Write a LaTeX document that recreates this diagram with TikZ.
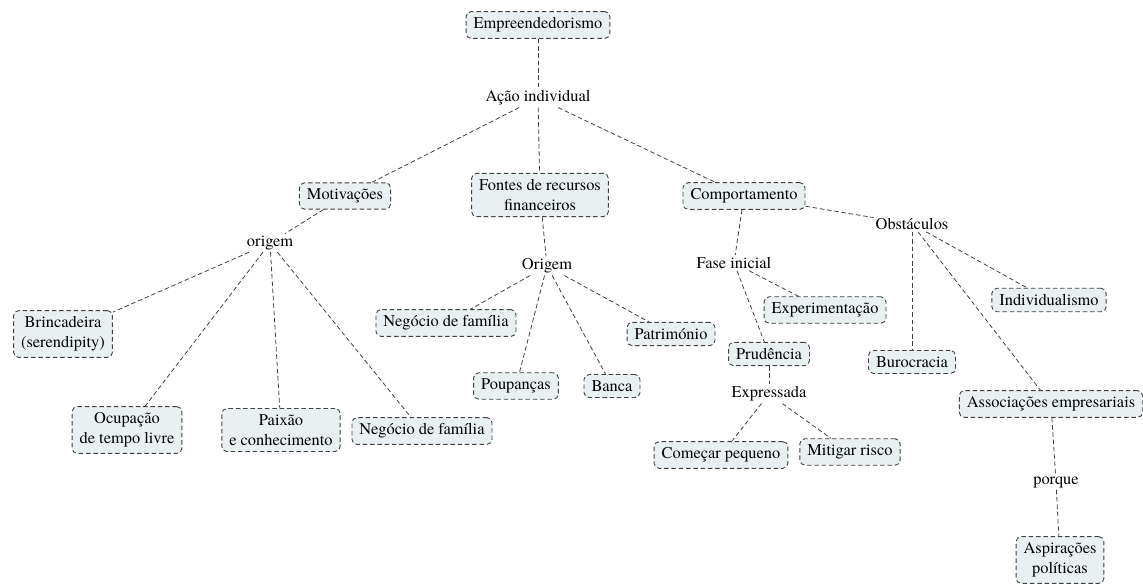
\documentclass[tikz,border=0pt]{standalone}
\usepackage{fontspec}
\setmainfont{texgyretermes}[Extension=.otf, UprightFont=*-regular, BoldFont=*-bold, ItalicFont=*-italic, BoldItalicFont=*-bolditalic]
\definecolor{boxfill}{RGB}{232,240,242}
\definecolor{inkgray}{RGB}{65,65,65}
\begin{document}
\begin{tikzpicture}[x=1pt,y=-1pt,
  font=\fontsize{16.4}{20}\selectfont,
  concept/.style={draw=inkgray, fill=boxfill, dash pattern=on 4.5pt off 2.8pt,
    line width=0.9pt, rounded corners=5pt, inner xsep=7.5pt, inner ysep=6pt,
    align=center, text=black},
  linker/.style={inner sep=2pt, align=center, text=black},
  link/.style={draw=inkgray, line width=0.8pt, dash pattern=on 4.5pt off 2.8pt}]
\useasboundingbox (0,0) rectangle (1143,586);
% concepts and linking phrases
\node[concept] (emp) at (538,25) {Empreendedorismo};
\node[linker] (acao) at (538,98) {Ação individual};
\node[concept] (mot) at (345,196) {Motivações};
\node[concept] (fon) at (540,195) {Fontes de recursos\\financeiros};
\node[concept] (com) at (744,196) {Comportamento};
\node[linker] (obs) at (912,224) {Obstáculos};
\node[linker] (ori1) at (270,243) {origem};
\node[linker] (ori2) at (547,266) {Origem};
\node[linker] (fase) at (734,263) {Fase inicial};
\node[concept] (bri) at (63,334) {Brincadeira\\(serendipity)};
\node[concept] (neg1) at (446,323) {Negócio de família};
\node[concept] (pat) at (671,334) {Património};
\node[concept] (exp) at (825,310) {Experimentação};
\node[concept] (ind) at (1049,300) {Individualismo};
\node[concept] (pru) at (769,354) {Prudência};
\node[concept] (bur) at (912,362) {Burocracia};
\node[concept] (pou) at (516,386) {Poupanças};
\node[concept] (ban) at (612,386) {Banca};
\node[concept] (ocu) at (127,430) {Ocupação\\de tempo livre};
\node[concept] (pai) at (281,430) {Paixão\\e conhecimento};
\node[concept] (neg2) at (422,431) {Negócio de família};
\node[linker] (expr) at (769,394) {Expressada};
\node[concept] (ass) at (1051,404) {Associações empresariais};
\node[concept] (cpq) at (721,455) {Começar pequeno};
\node[concept] (mit) at (850,452) {Mitigar risco};
\node[linker] (porq) at (1056,482) {porque};
\node[concept] (asp) at (1060,560) {Aspirações\\políticas};
% connectors
\draw[link] (emp) -- (acao);
\draw[link] (acao) -- (mot);
\draw[link] (acao) -- (fon);
\draw[link] (acao) -- (com);
\draw[link] (mot) -- (ori1);
\draw[link] (ori1) -- (bri);
\draw[link] (ori1) -- (ocu);
\draw[link] (ori1) -- (pai);
\draw[link] (ori1) -- (neg2);
\draw[link] (fon) -- (ori2);
\draw[link] (ori2) -- (neg1);
\draw[link] (ori2) -- (pou);
\draw[link] (ori2) -- (ban);
\draw[link] (ori2) -- (pat);
\draw[link] (com) -- (fase);
\draw[link] (com) -- (obs);
\draw[link] (fase) -- (exp);
\draw[link] (fase) -- (pru);
\draw[link] (pru) -- (expr);
\draw[link] (expr) -- (cpq);
\draw[link] (expr) -- (mit);
\draw[link] (obs) -- (ind);
\draw[link] (obs) -- (bur);
\draw[link] (obs) -- (ass);
\draw[link] (ass) -- (porq);
\draw[link] (porq) -- (asp);
\end{tikzpicture}
\end{document}
